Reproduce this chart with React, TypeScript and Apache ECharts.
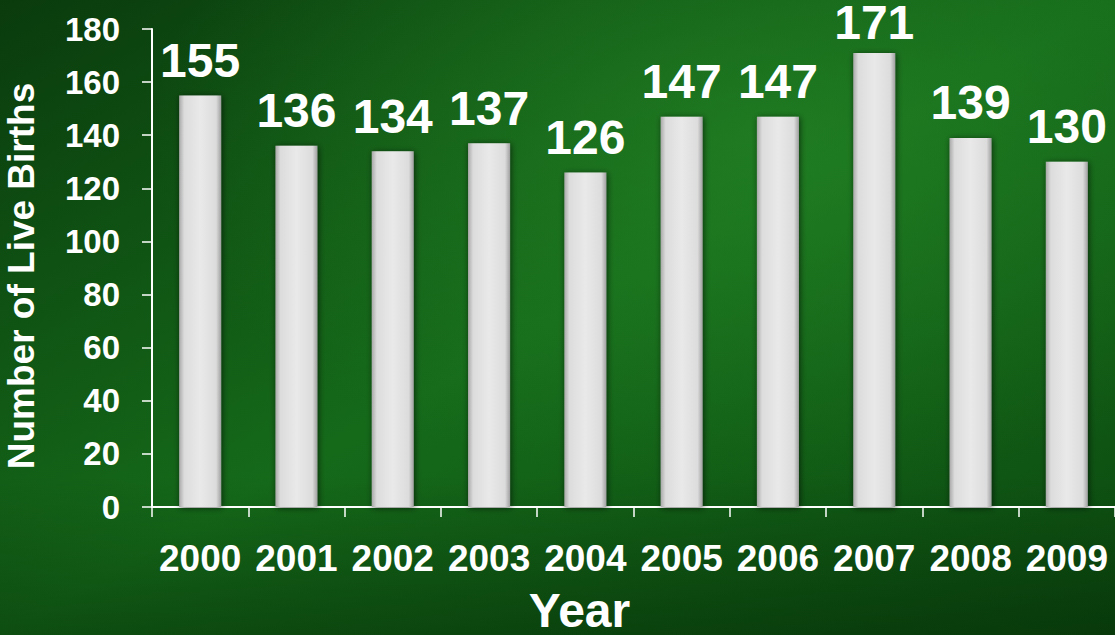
import React, { useEffect, useRef } from "react";
import * as echarts from "echarts";

const years = ["2000", "2001", "2002", "2003", "2004", "2005", "2006", "2007", "2008", "2009"];
const births = [155, 136, 134, 137, 126, 147, 147, 171, 139, 130];
const yTicks = { min: 0, max: 180, interval: 20 };

export default function App() {
  const ref = useRef<HTMLDivElement>(null);
  useEffect(() => {
    if (!ref.current) return;
    const chart = echarts.init(ref.current, null, { renderer: "svg" });
    const font = "'Liberation Sans', Arial, sans-serif";
    const barData = births.map((v) =>
      v > 165 ? { value: v, label: { distance: 10, lineHeight: 40 } } : { value: v }
    );
    chart.setOption({
      animation: false,
      backgroundColor: new echarts.graphic.LinearGradient(0, 0, 1, 1, [
        { offset: 0, color: "#0a3b0d" },
        { offset: 0.5, color: "#156a1a" },
        { offset: 1, color: "#0c4a10" },
      ]),
      graphic: [
        {
          type: "rect",
          z: -5,
          shape: { x: 0, y: 0, width: 1115, height: 635 },
          style: {
            fill: new echarts.graphic.RadialGradient(0.68, 0.22, 0.55, [
              { offset: 0, color: "rgba(40,140,40,0.55)" },
              { offset: 1, color: "rgba(40,140,40,0)" },
            ]),
          },
          silent: true,
        },
        {
          type: "rect",
          z: -5,
          shape: { x: 0, y: 0, width: 1115, height: 635 },
          style: {
            fill: new echarts.graphic.LinearGradient(0, 0, 0, 1, [
              { offset: 0, color: "rgba(0,20,0,0)" },
              { offset: 0.75, color: "rgba(0,20,0,0)" },
              { offset: 1, color: "rgba(0,25,0,0.35)" },
            ]),
          },
          silent: true,
        },
      ],
      grid: { left: 152, right: 0, top: 29, bottom: 128, containLabel: false, outerBoundsMode: "none" },
      xAxis: {
        type: "category",
        data: years,
        name: "Year",
        nameLocation: "middle",
        nameGap: 79,
        nameTextStyle: { color: "#ffffff", fontSize: 48, fontWeight: "bold", fontFamily: font, padding: [0, 108, 0, 0] },
        axisLine: { lineStyle: { color: "#ffffff", width: 2 } },
        axisTick: { show: true, length: 10, lineStyle: { color: "#ffffff", width: 1.5 } },
        axisLabel: { interval: 0, color: "#ffffff", fontSize: 37, fontWeight: "bold", fontFamily: font, margin: 33 },
      },
      yAxis: {
        type: "value",
        min: yTicks.min,
        max: yTicks.max,
        interval: yTicks.interval,
        name: "Number of Live Births",
        nameLocation: "middle",
        nameGap: 112,
        nameRotate: 90,
        nameTextStyle: { color: "#ffffff", fontSize: 37, fontWeight: "bold", fontFamily: font, padding: [0, 16, 0, 0] },
        axisLine: { show: true, lineStyle: { color: "#ffffff", width: 2 } },
        axisTick: { show: true, length: 10, lineStyle: { color: "#ffffff", width: 1.5 } },
        splitLine: { show: false },
        axisLabel: { color: "#ffffff", fontSize: 33, fontWeight: "bold", fontFamily: font, margin: 32 },
      },
      series: [
        {
          type: "bar",
          data: barData,
          barWidth: 42,
          itemStyle: {
            color: new echarts.graphic.LinearGradient(0, 0, 1, 0, [
              { offset: 0, color: "#a9a9a9" },
              { offset: 0.12, color: "#dcdcdc" },
              { offset: 0.5, color: "#e9e9e9" },
              { offset: 0.88, color: "#dcdcdc" },
              { offset: 1, color: "#a0a0a0" },
            ]),
            shadowColor: "rgba(0,0,0,0.6)",
            shadowBlur: 6,
            shadowOffsetX: 1,
            shadowOffsetY: 1,
          },
          label: {
            show: true,
            position: "top",
            distance: 11,
            color: "#ffffff",
            fontSize: 48,
            fontWeight: "bold",
            fontFamily: font,
          },
        },
      ],
    });
    return () => chart.dispose();
  }, []);
  return (
    <div
      ref={ref}
      style={{ position: "fixed", left: 0, top: 0, width: 1115, height: 635 }}
    />
  );
}
